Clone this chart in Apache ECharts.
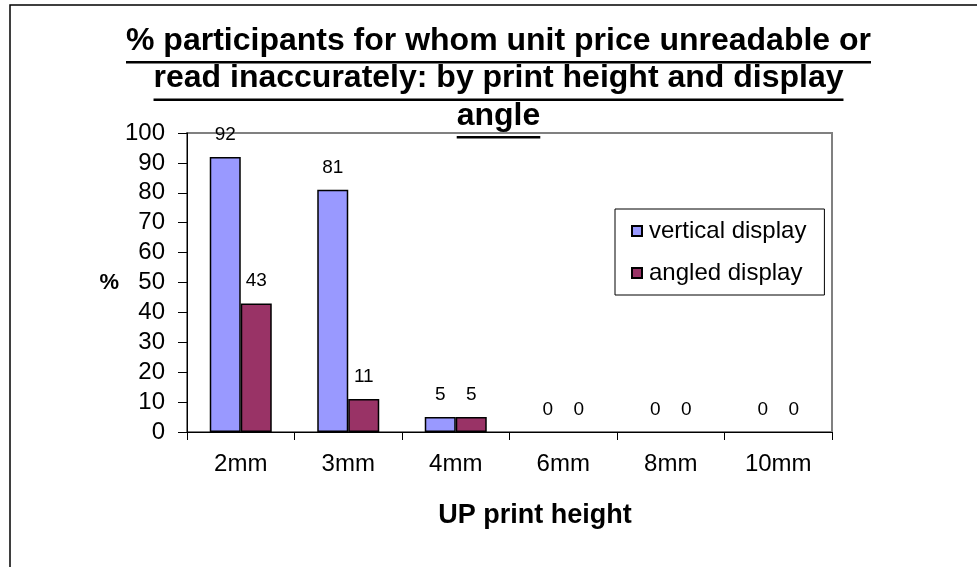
<!DOCTYPE html>
<html>
<head>
<meta charset="utf-8">
<script src="https://cdn.jsdelivr.net/npm/echarts@6/dist/echarts.min.js"></script>
<style>
  html, body { margin: 0; padding: 0; background: #fff; }
  #chart { width: 977px; height: 567px; }
</style>
</head>
<body>
<div id="chart"></div>
<script>
var categories = ['2mm', '3mm', '4mm', '6mm', '8mm', '10mm'];
var verticalDisplay = [92, 81, 5, 0, 0, 0];
var angledDisplay = [43, 11, 5, 0, 0, 0];
var seriesNames = ['vertical display', 'angled display'];
var titleLines = [
  '% participants for whom unit price unreadable or',
  'read inaccurately: by print height and display',
  'angle'
];

var FONT = '"Liberation Sans", Arial, sans-serif';
var TITLE_FONT = 'bold 32px ' + FONT;

// measure title lines so the underline fits the text
var cv = document.createElement('canvas').getContext('2d');
cv.font = TITLE_FONT;

var graphics = [];
// outer border of the chart
graphics.push({
  type: 'rect',
  shape: { x: 10, y: 5, width: 1000, height: 600 },
  style: { fill: null, stroke: '#000', lineWidth: 1.5 },
  silent: true
});
titleLines.forEach(function (line, i) {
  var base = 57 + i * 37.5;
  var w = cv.measureText(line).width;
  graphics.push({
    type: 'text',
    x: 498.5, y: base,
    style: {
      text: line, font: TITLE_FONT, fill: '#000',
      textAlign: 'center', textVerticalAlign: 'bottom'
    }
  });
  graphics.push({
    type: 'rect',
    shape: { x: 498.5 - w / 2, y: base + 4, width: w, height: 2.5 },
    style: { fill: '#000' }
  });
});
graphics.push({
  type: 'text',
  x: 535, y: 516,
  style: {
    text: 'UP print height', font: 'bold 27px ' + FONT, fill: '#000',
    textAlign: 'center', textVerticalAlign: 'middle'
  }
});

// zero-height bars should not leave a border on the axis
function barData(arr) {
  return arr.map(function (v) {
    return v === 0 ? { value: v, itemStyle: { borderWidth: 0 } } : v;
  });
}

var labelStyle = { show: true, position: 'top', distance: 13, fontSize: 19, color: '#000', fontFamily: FONT };

var chart = echarts.init(document.getElementById('chart'));
chart.setOption({
  animation: false,
  backgroundColor: '#fff',
  textStyle: { fontFamily: FONT },
  grid: { left: 187, right: 145, top: 133, bottom: 135, show: true, borderColor: '#808080', borderWidth: 2 },
  legend: {
    orient: 'vertical',
    left: 615, top: 209,
    padding: [10, 18, 10, 16],
    itemGap: 18,
    itemWidth: 10, itemHeight: 10,
    icon: 'rect',
    borderColor: '#000', borderWidth: 1,
    backgroundColor: '#fff',
    textStyle: { fontSize: 24, color: '#000', fontFamily: FONT, padding: [0, 0, 0, 2] },
    data: seriesNames
  },
  xAxis: {
    type: 'category',
    data: categories,
    axisLine: { lineStyle: { color: '#000', width: 1 } },
    axisTick: { show: true, length: 8, lineStyle: { color: '#000' } },
    axisLabel: { fontSize: 24, color: '#000', margin: 20, fontFamily: FONT }
  },
  yAxis: {
    type: 'value',
    min: 0, max: 100, interval: 10,
    name: '%',
    nameLocation: 'middle',
    nameRotate: 0,
    nameGap: 68,
    nameTextStyle: { fontSize: 22, fontWeight: 'bold', color: '#000', fontFamily: FONT },
    splitLine: { show: false },
    axisLine: { show: true, lineStyle: { color: '#000', width: 1 } },
    axisTick: { show: true, length: 9, lineStyle: { color: '#000' } },
    axisLabel: { fontSize: 24, color: '#000', margin: 22, fontFamily: FONT }
  },
  series: [
    {
      name: seriesNames[0],
      type: 'bar',
      data: barData(verticalDisplay),
      barWidth: 31,
      barGap: '0%',
      itemStyle: { color: '#9999FF', borderColor: '#000', borderWidth: 1.5 },
      label: labelStyle
    },
    {
      name: seriesNames[1],
      type: 'bar',
      data: barData(angledDisplay),
      barWidth: 31,
      barGap: '0%',
      itemStyle: { color: '#993366', borderColor: '#000', borderWidth: 1.5 },
      label: labelStyle
    }
  ],
  graphic: graphics
});
</script>
</body>
</html>
